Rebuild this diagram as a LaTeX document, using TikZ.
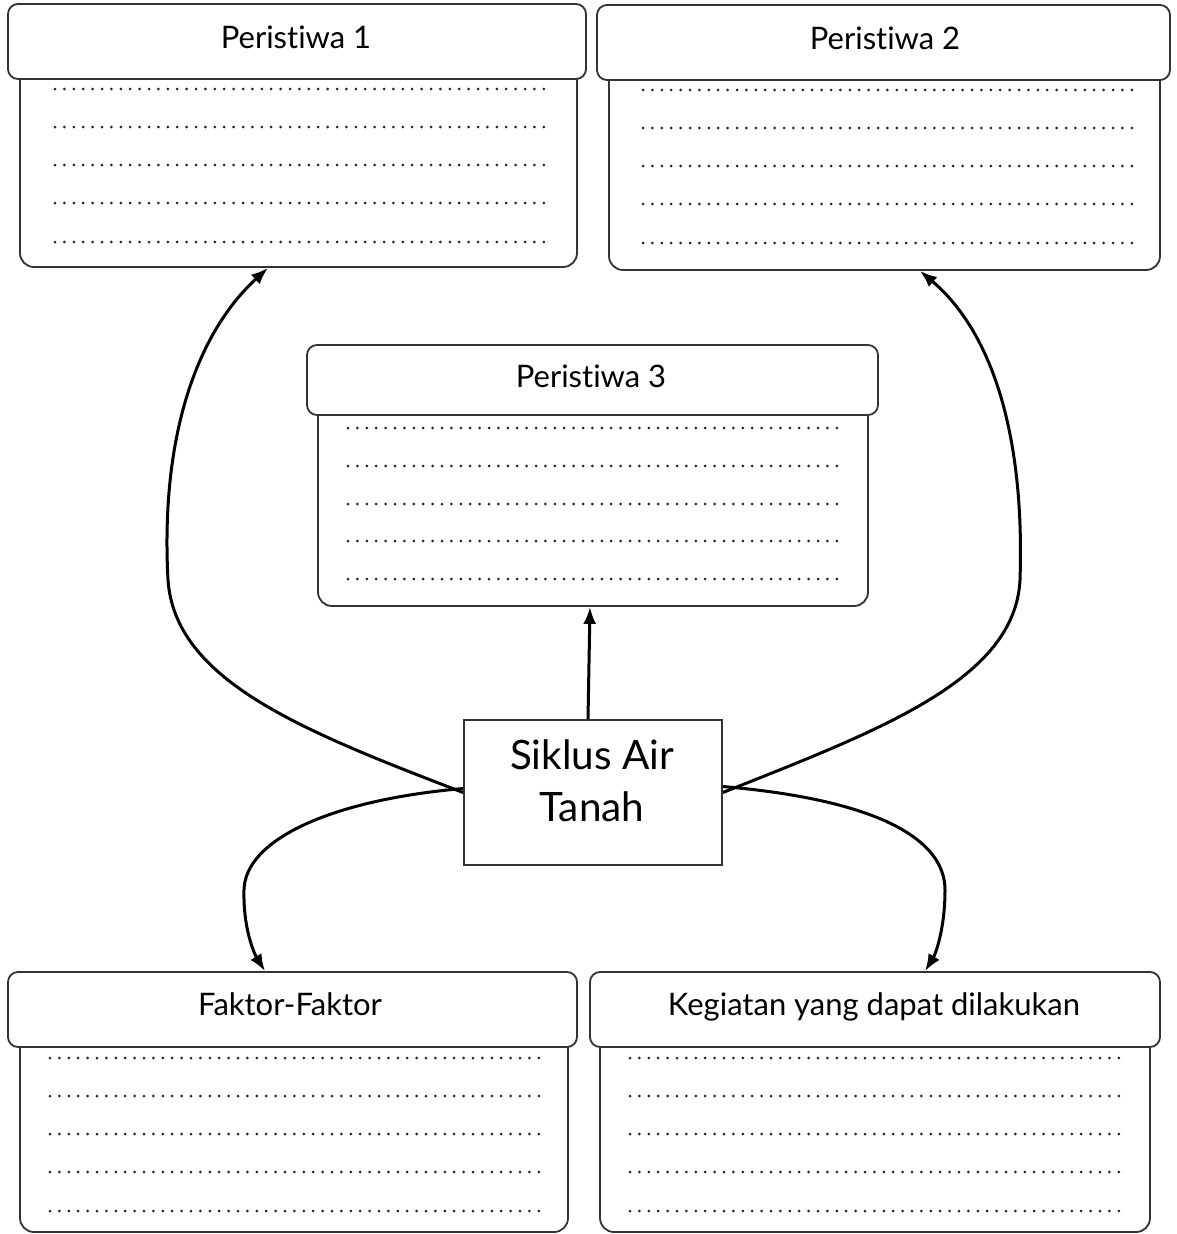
\documentclass[tikz,border=0pt]{standalone}
\usepackage{fontspec}
\setmainfont[Ligatures={NoCommon,NoContextual}]{Lato}
\usetikzlibrary{arrows.meta}
\definecolor{edgecol}{HTML}{333333}
\begin{document}
\begin{tikzpicture}[x=1pt,y=-1pt,
  bodybox/.style={draw=edgecol, line width=1.8pt, rounded corners=14pt, fill=white, inner sep=0pt},
  headbox/.style={draw=edgecol, line width=1.8pt, rounded corners=10pt, fill=white, inner sep=0pt},
  headtext/.style={anchor=base, inner sep=0pt, font=\fontsize{31}{36}\selectfont},
  mainbox/.style={draw=edgecol, line width=1.8pt, fill=white, inner sep=0pt},
  maintext/.style={align=center, inner sep=0pt, font=\fontsize{40.5}{52}\selectfont},
  link/.style={line width=3pt, -{Latex[length=17pt,width=13pt]}},
  dotline/.style={line width=3pt, line cap=round, dash pattern=on 0pt off 9.4pt, black!85}
]
\path[use as bounding box] (0,0) rectangle (1176,1234);

% Peristiwa 1
\node[bodybox, minimum width=557pt, minimum height=207pt] (b1) at (298.5,163.5) {};
\node[headbox, minimum width=578pt, minimum height=75pt] (h1) at (297,41.5) {};
\node[headtext] (t1) at (296,48) {Peristiwa 1};
% Peristiwa 2
\node[bodybox, minimum width=551pt, minimum height=210pt] (b2) at (884.5,165) {};
\node[headbox, minimum width=573pt, minimum height=75pt] (h2) at (883.5,42.5) {};
\node[headtext] (t2) at (885,49) {Peristiwa 2};
% Peristiwa 3
\node[bodybox, minimum width=550pt, minimum height=211pt] (b3) at (593,500.5) {};
\node[headbox, minimum width=571pt, minimum height=70pt] (h3) at (592.5,380) {};
\node[headtext] (t3) at (591,387) {Peristiwa 3};
% Faktor
\node[bodybox, minimum width=548pt, minimum height=212pt] (b4) at (294,1126) {};
\node[headbox, minimum width=569pt, minimum height=75pt] (h4) at (292.5,1009.5) {};
\node[headtext] (t4) at (290,1015) {Faktor-Faktor};
% Kegiatan
\node[bodybox, minimum width=550pt, minimum height=212pt] (b5) at (875,1126) {};
\node[headbox, minimum width=570pt, minimum height=75pt] (h5) at (875,1009.5) {};
\node[headtext] (t5) at (874,1015) {Kegiatan yang dapat dilakukan};
% centre
\node[mainbox, minimum width=258pt, minimum height=145pt] (c) at (593,792.5) {};
\node[maintext] (ct) at (592,781) {Siklus Air\\Tanah};

% dotted lines
\foreach \y in {89,127,165,203,242} \draw[dotline] (55,\y) -- (545,\y);
\foreach \y in {90,128,166,204,243} \draw[dotline] (643,\y) -- (1133,\y);
\foreach \y in {428,466,504,541,579} \draw[dotline] (348,\y) -- (838,\y);
\foreach \y in {1058,1096,1134,1172,1211} \draw[dotline] (50,\y) -- (540,\y);
\foreach \y in {1058,1096,1134,1172,1211} \draw[dotline] (630,\y) -- (1120,\y);

% connectors
\draw[link] (c.west) .. controls (300,730) and (175,680) .. (168,580)
  .. controls (160,430) and (200,330) .. ([xshift=-30.5pt]b1.south);
\draw[link] (c.east) .. controls (880,730) and (1015,680) .. (1020,580)
  .. controls (1025,430) and (990,330) .. ([xshift=35.5pt]b2.south);
\draw[link] ([xshift=-5pt]c.north) -- ([xshift=-3pt]b3.south);
\draw[link] ([yshift=4pt]c.west) .. controls (330,800) and (245,840) .. (244,890)
  .. controls (243,930) and (255,955) .. ([xshift=-27.5pt]h4.north);
\draw[link] ([yshift=6pt]c.east) .. controls (880,800) and (945,840) .. (945,890)
  .. controls (945,930) and (935,955) .. ([xshift=50pt]h5.north);
\end{tikzpicture}
\end{document}
